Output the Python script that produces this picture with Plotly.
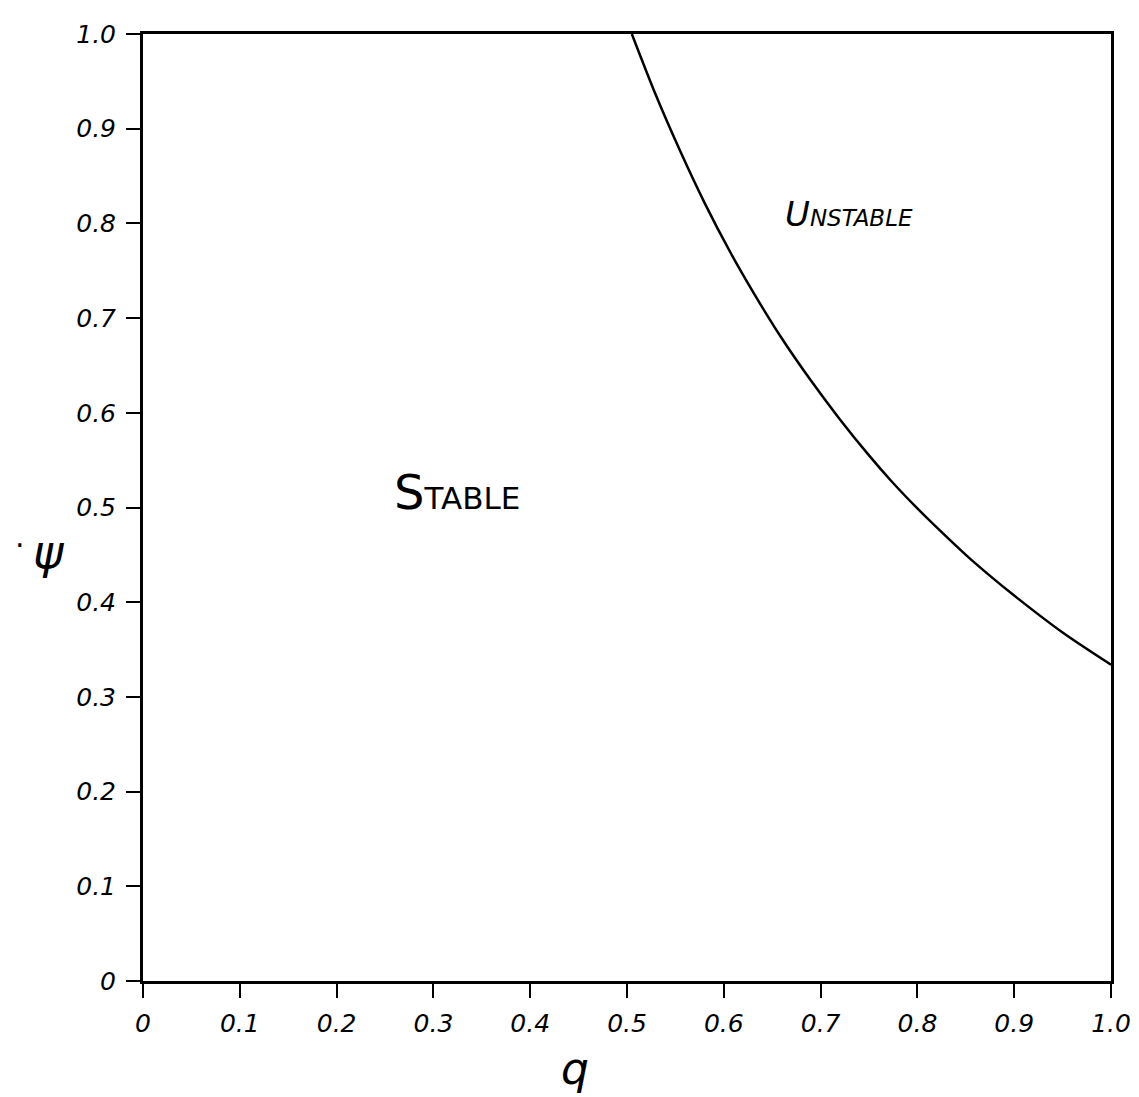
import plotly.graph_objects as go

# Stability boundary
q_vals = [0.505, 0.53, 0.556, 0.58, 0.607, 0.63, 0.659, 0.69, 0.72, 0.75, 0.773, 0.80, 0.824, 0.85, 0.876, 0.90, 0.95, 1.0]
psi_vals = [1.0, 0.935, 0.874, 0.822, 0.769, 0.728, 0.680, 0.634, 0.593, 0.555, 0.528, 0.499, 0.475, 0.450, 0.427, 0.407, 0.368, 0.334]

x_tick_vals = [0, 0.1, 0.2, 0.3, 0.4, 0.5, 0.6, 0.7, 0.8, 0.9, 1.0]
x_tick_text = ["0", "0.1", "0.2", "0.3", "0.4", "0.5", "0.6", "0.7", "0.8", "0.9", "1.0"]
y_tick_vals = [0, 0.1, 0.2, 0.3, 0.4, 0.5, 0.6, 0.7, 0.8, 0.9, 1.0]
y_tick_text = ["0", "0.1", "0.2", "0.3", "0.4", "0.5", "0.6", "0.7", "0.8", "0.9", "1.0"]

FONT = "DejaVu Sans"
W, H = 1139, 1097
ML, MR, MT, MB = 135, 36, 23, 124

fig = go.Figure()
fig.add_trace(go.Scatter(x=q_vals, y=psi_vals, mode="lines",
                         line=dict(color="black", width=2.5, shape="spline", smoothing=0.8),
                         showlegend=False, hoverinfo="skip"))

axis_common = dict(showgrid=False, zeroline=False, showline=True, linecolor="black", linewidth=3,
                   mirror=True, ticks="outside", tickcolor="black", tickwidth=2, ticklen=14,
                   tickfont=dict(family=FONT, size=25, color="black", style="italic"))

fig.update_xaxes(range=[0, 1.0], tickvals=x_tick_vals, ticktext=x_tick_text, ticklabelstandoff=4, **axis_common)
fig.update_yaxes(range=[0, 1.0], tickvals=y_tick_vals, ticktext=y_tick_text, ticklabelstandoff=5, **axis_common)

fig.add_annotation(x=0.324, y=0.516, xref="x", yref="y", showarrow=False,
                   text="S<span style='font-size:31px'>TABLE</span>",
                   font=dict(family=FONT, size=48, color="black"))
fig.add_annotation(x=0.729, y=0.81, xref="x", yref="y", showarrow=False,
                   text="U<span style='font-size:23px'>NSTABLE</span>",
                   font=dict(family=FONT, size=34, color="black", style="italic"))

pw, ph = W - ML - MR, H - MT - MB
def px(xp):
    return (xp - 142) / pw
def py(yp):
    return (980 - yp) / ph

fig.add_annotation(x=px(574), y=py(1068), xref="paper", yref="paper", showarrow=False, text="q",
                   xanchor="center", yanchor="middle",
                   font=dict(family=FONT, size=44, color="black", style="italic"))
fig.add_annotation(x=px(48), y=py(550), xref="paper", yref="paper", showarrow=False, text="ψ",
                   xanchor="center", yanchor="middle",
                   font=dict(family=FONT, size=46, color="black", style="italic"))
fig.add_annotation(x=px(12), y=py(543), xref="paper", yref="paper", showarrow=False, text="·",
                   xanchor="left", yanchor="middle",
                   font=dict(family=FONT, size=30, color="black"))

fig.update_layout(
    width=W, height=H,
    margin=dict(l=ML, r=MR, t=MT, b=MB),
    plot_bgcolor="white", paper_bgcolor="white",
    showlegend=False,
)

fig.write_html("out.html")
